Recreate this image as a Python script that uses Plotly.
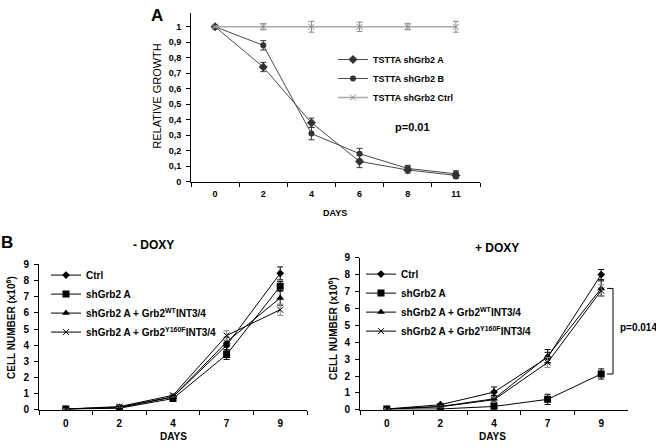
import plotly.graph_objects as go

# ---- panel A: relative growth ----
days_a = ["0", "2", "4", "6", "8", "11"]
grb2_a = [1.0, 0.74, 0.38, 0.13, 0.075, 0.04]
grb2_a_err = [0.005, 0.03, 0.03, 0.04, 0.02, 0.02]
grb2_b = [1.0, 0.88, 0.31, 0.18, 0.085, 0.05]
grb2_b_err = [0.005, 0.03, 0.04, 0.035, 0.02, 0.02]
grb2_ctrl = [1.0, 1.0, 1.0, 1.0, 1.0, 1.0]
grb2_ctrl_err = [0.005, 0.02, 0.035, 0.03, 0.02, 0.035]

# ---- panel B: cell number (x10^6) ----
days_b = ["0", "2", "4", "7", "9"]
# - DOXY
m_ctrl = [0.05, 0.15, 0.8, 4.0, 8.45]
m_ctrl_err = [0.02, 0.05, 0.1, 0.3, 0.4]
m_sh = [0.05, 0.1, 0.7, 3.42, 7.65]
m_sh_err = [0.02, 0.05, 0.1, 0.3, 0.3]
m_wt = [0.05, 0.15, 0.8, 4.2, 6.93]
m_wt_err = [0.02, 0.05, 0.1, 0.3, 0.45]
m_yf = [0.05, 0.2, 0.9, 4.6, 6.2]
m_yf_err = [0.02, 0.05, 0.1, 0.3, 0.35]
# + DOXY
p_ctrl = [0.05, 0.3, 1.05, 3.1, 8.0]
p_ctrl_err = [0.02, 0.05, 0.3, 0.3, 0.3]
p_sh = [0.05, 0.05, 0.2, 0.62, 2.12]
p_sh_err = [0.02, 0.03, 0.1, 0.3, 0.3]
p_wt = [0.05, 0.2, 0.65, 3.17, 7.18]
p_wt_err = [0.02, 0.05, 0.2, 0.4, 0.45]
p_yf = [0.05, 0.18, 0.6, 2.8, 7.05]
p_yf_err = [0.02, 0.05, 0.15, 0.3, 0.35]

FONT = "Liberation Sans, Arial, sans-serif"
W, H = 656, 448

def px_x(v):
    return v / W

def px_y(v):
    return 1 - v / H

def err(a, color="black"):
    return dict(type="data", array=a, visible=True, color=color, thickness=1, width=3)

fig = go.Figure()

# panel A traces
fig.add_trace(go.Scatter(x=days_a, y=grb2_a, name="TSTTA shGrb2 A", mode="lines+markers",
                         line=dict(color="#4a4a4a", width=1), marker=dict(symbol="diamond", size=7, color="#333333"),
                         error_y=err(grb2_a_err, "#333333"), xaxis="x", yaxis="y", legend="legend"))
fig.add_trace(go.Scatter(x=days_a, y=grb2_b, name="TSTTA shGrb2 B", mode="lines+markers",
                         line=dict(color="#4a4a4a", width=1), marker=dict(symbol="circle", size=6, color="#333333"),
                         error_y=err(grb2_b_err, "#333333"), xaxis="x", yaxis="y", legend="legend"))
fig.add_trace(go.Scatter(x=days_a, y=grb2_ctrl, name="TSTTA shGrb2 Ctrl", mode="lines+markers",
                         line=dict(color="#a8a8a8", width=1.5),
                         marker=dict(symbol="x-thin", size=6, line=dict(color="#888888", width=1)),
                         error_y=err(grb2_ctrl_err, "#888888"), xaxis="x", yaxis="y", legend="legend"))

labels_b = ["Ctrl", "shGrb2 A", "shGrb2 A + Grb2<sup>WT</sup>INT3/4", "shGrb2 A + Grb2<sup>Y160F</sup>INT3/4"]
symbols_b = ["diamond", "square", "triangle-up", "x-thin"]
sizes_b = [6, 7, 7, 6]

for ax, leg, series in [("2", "legend2", [(m_ctrl, m_ctrl_err), (m_sh, m_sh_err), (m_wt, m_wt_err), (m_yf, m_yf_err)]),
                        ("3", "legend3", [(p_ctrl, p_ctrl_err), (p_sh, p_sh_err), (p_wt, p_wt_err), (p_yf, p_yf_err)])]:
    for i, (vals, errs) in enumerate(series):
        sym = symbols_b[i]
        if sym == "x-thin":
            mk = dict(symbol=sym, size=sizes_b[i], line=dict(color="black", width=1))
            ecol = "#8c8c8c"
        else:
            mk = dict(symbol=sym, size=sizes_b[i], color="black")
            ecol = "black"
        fig.add_trace(go.Scatter(x=days_b, y=vals, name=labels_b[i], mode="lines+markers",
                                 line=dict(color="black", width=1), marker=mk, error_y=err(errs, ecol),
                                 xaxis="x" + ax, yaxis="y" + ax, legend=leg))

tickfont = dict(family=FONT, size=10, color="black", weight="bold")
tickfont_a = dict(family=FONT, size=9, color="black", weight="bold")

def xax(dom, anchor, tf, n):
    return dict(domain=dom, anchor=anchor, type="category", tickson="boundaries", ticks="outside",
                range=[-0.5, n - 0.5], ticklen=4, tickcolor="black", showline=True, linecolor="black",
                linewidth=1, showgrid=False, zeroline=False, tickfont=tf, ticklabelstandoff=4)

def yax(dom, anchor, rng, tf, **kw):
    d = dict(domain=dom, anchor=anchor, range=rng, ticks="outside", ticklen=4, tickcolor="black",
             showline=True, linecolor="black", linewidth=1, showgrid=False, zeroline=False,
             tickfont=tf, ticklabelstandoff=3)
    d.update(kw)
    return d

ya_vals = [i / 10 for i in range(11)]
ya_text = ["0"] + ["0," + str(i) for i in range(1, 10)] + ["1"]

fig.update_layout(
    width=W, height=H, margin=dict(l=0, r=0, t=0, b=0),
    paper_bgcolor="white", plot_bgcolor="white",
    font=dict(family=FONT, color="black"),
    xaxis=xax([px_x(191), px_x(480)], "y", tickfont_a, len(days_a)),
    yaxis=yax([px_y(180), px_y(7)], "x", [0, 1.09], tickfont_a, tickmode="array",
              tickvals=ya_vals, ticktext=ya_text),
    xaxis2=xax([px_x(39), px_x(307)], "y2", tickfont, len(days_b)),
    yaxis2=yax([px_y(414), px_y(265)], "x2", [0, 9], tickfont, dtick=1),
    xaxis3=xax([px_x(360), px_x(628)], "y3", tickfont, len(days_b)),
    yaxis3=yax([px_y(414), px_y(258)], "x3", [0, 9], tickfont, dtick=1),
    legend=dict(x=px_x(333), y=px_y(40), xanchor="left", yanchor="top", bgcolor="rgba(0,0,0,0)",
                font=dict(family=FONT, size=9, color="black", weight="bold"), itemwidth=30),
    legend2=dict(x=px_x(46), y=px_y(261), xanchor="left", yanchor="top", bgcolor="rgba(0,0,0,0)",
                 font=dict(family=FONT, size=10, color="black", weight="bold"), itemwidth=30),
    legend3=dict(x=px_x(361), y=px_y(260), xanchor="left", yanchor="top", bgcolor="rgba(0,0,0,0)",
                 font=dict(family=FONT, size=10, color="black", weight="bold"), itemwidth=30),
)

def note(text, x, y, size, bold=True, angle=0):
    fig.add_annotation(text=text, x=px_x(x), y=px_y(y), xref="paper", yref="paper",
                       showarrow=False, textangle=angle, xanchor="center", yanchor="middle",
                       font=dict(family=FONT, size=size, color="black", weight="bold" if bold else "normal"))

note("A", 157, 10, 17)
note("B", 7, 242, 17)
note("RELATIVE GROWTH", 157, 92, 11, bold=False, angle=-90)
note("DAYS", 335, 212, 9)
note("p=0.01", 413, 124, 11)
note("- DOXY", 153, 245, 12)
note("+ DOXY", 497, 248, 12)
note("CELL NUMBER (x10<sup>6</sup>)", 11, 330, 10, angle=-90)
note("CELL NUMBER (x10<sup>6</sup>)", 333, 330, 10, angle=-90)
note("DAYS", 173, 441, 10)
note("DAYS", 493, 441, 10)
fig.add_annotation(text="p=0.014", x=px_x(618), y=px_y(330), xref="paper", yref="paper", showarrow=False,
                   xanchor="left", yanchor="middle", font=dict(family=FONT, size=10, color="black", weight="bold"))

# bracket comparing + DOXY groups at day 9
hi, lo = p_wt[-1], p_sh[-1]
for yv in (hi, lo):
    fig.add_shape(type="line", xref="paper", yref="y3", x0=px_x(607), x1=px_x(613), y0=yv, y1=yv,
                  line=dict(color="black", width=1))
fig.add_shape(type="line", xref="paper", yref="y3", x0=px_x(613), x1=px_x(613), y0=lo, y1=hi,
              line=dict(color="black", width=1))

fig.write_html("out.html", config={"displayModeBar": False},
               post_script="document.body.style.margin='0';")
